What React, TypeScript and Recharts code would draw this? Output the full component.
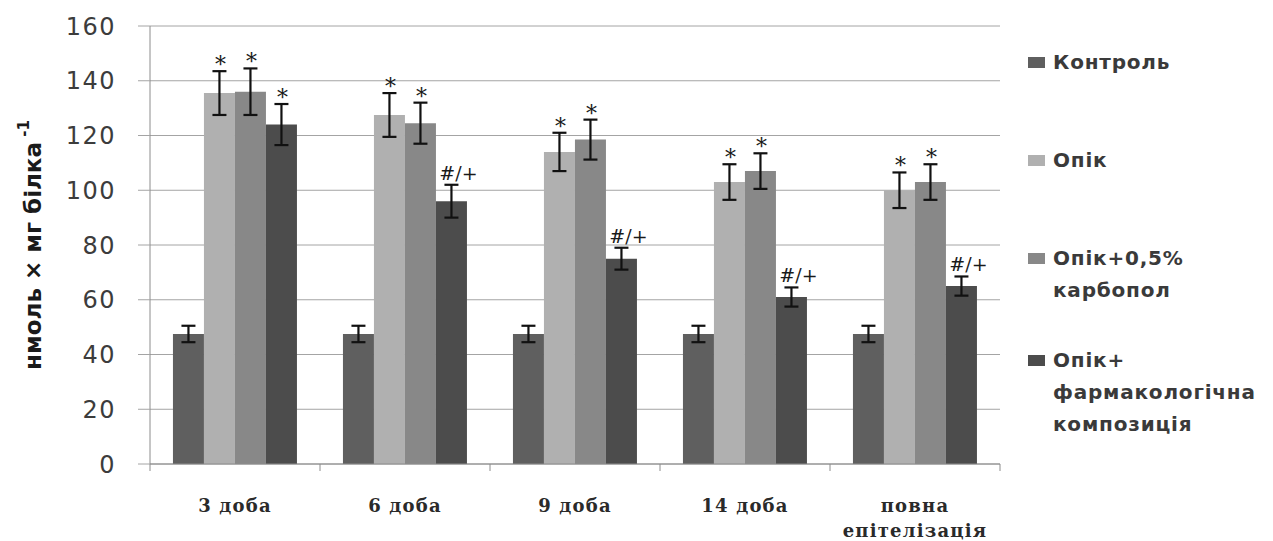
import { BarChart, Bar, XAxis, YAxis, CartesianGrid, ErrorBar, LabelList } from 'recharts'

const categoryLines = [['3 доба'], ['6 доба'], ['9 доба'], ['14 доба'], ['повна', 'епітелізація']]
const categories = categoryLines.map((l) => l.join(' '))

const control = [47.5, 47.5, 47.5, 47.5, 47.5]
const controlErr = [3, 3, 3, 3, 3]
const opik = [135.5, 127.5, 114, 103, 100]
const opikErr = [8, 8, 7, 6.5, 6.5]
const carbopol = [136, 124.5, 118.5, 107, 103]
const carbopolErr = [8.5, 7.5, 7.3, 6.5, 6.5]
const farm = [124, 96, 75, 61, 65]
const farmErr = [7.5, 6, 4, 3.5, 3.5]

const controlMarks = ['', '', '', '', '']
const opikMarks = ['*', '*', '*', '*', '*']
const carbopolMarks = ['*', '*', '*', '*', '*']
const farmMarks = ['*', '#/+', '#/+', '#/+', '#/+']

const yTicks = [0, 20, 40, 60, 80, 100, 120, 140, 160]

const series = [
  { key: 'control', lines: ['Контроль'], color: '#5f5f5f', values: control, errs: controlErr, marks: controlMarks },
  { key: 'opik', lines: ['Опік'], color: '#b0b0b0', values: opik, errs: opikErr, marks: opikMarks },
  { key: 'carbopol', lines: ['Опік+0,5%', 'карбопол'], color: '#888888', values: carbopol, errs: carbopolErr, marks: carbopolMarks },
  { key: 'farm', lines: ['Опік+', 'фармакологічна', 'композиція'], color: '#4c4c4c', values: farm, errs: farmErr, marks: farmMarks },
]

const rows = categories.map((c, i) => {
  const row: Record<string, string | number> = { category: c }
  series.forEach((s) => {
    row[s.key] = s.values[i]
    row[s.key + 'Err'] = s.errs[i]
  })
  return row
})

const legendTops = [62, 160, 258, 360]

const makeMarkLabel = (values: number[], errs: number[], marks: string[]) => (props: any) => {
  const { index } = props
  const mark = marks[index]
  if (!mark) return null
  const x = Number(props.x)
  const y = Number(props.y)
  const width = Number(props.width)
  const height = Number(props.height)
  const top = y - errs[index] * (height / values[index])
  const star = mark === '*'
  return (
    <text
      x={x + width / 2 + (star ? 1 : 7)}
      y={star ? top + 1 : top - 5}
      textAnchor="middle"
      fontFamily="'DejaVu Serif', serif"
      fontSize={star ? 22 : 19}
      fill="#1a1a1a"
    >
      {mark}
    </text>
  )
}

const CategoryTick = (props: any) => {
  const { x, y, payload, index } = props
  const half = payload && payload.offset ? payload.offset : 85
  const lines = categoryLines[index] || [String(payload.value)]
  return (
    <g>
      <line x1={x - half} y1={y} x2={x - half} y2={y + 7} stroke="#8c8c8c" />
      {index === categories.length - 1 && (
        <line x1={x + half} y1={y} x2={x + half} y2={y + 7} stroke="#8c8c8c" />
      )}
      <text
        x={x}
        y={y + 48}
        textAnchor="middle"
        fontFamily="'DejaVu Serif', serif"
        fontWeight="bold"
        fontSize={18}
        letterSpacing={1.2}
        fill="#2a2a2a"
      >
        {lines.map((l, i) => (
          <tspan key={i} x={x} dy={i === 0 ? 0 : 25}>
            {l}
          </tspan>
        ))}
      </text>
    </g>
  )
}

const YTitle = () => (
  <text
    transform="rotate(-90, 33, 245)"
    x={33}
    y={245}
    textAnchor="middle"
    dominantBaseline="central"
    fontFamily="'DejaVu Sans', sans-serif"
    fontWeight="bold"
    fontSize={23}
    fill="#1a1a1a"
  >
    нмоль × мг білка
    <tspan fontSize={15} dy={-9}> -1</tspan>
  </text>
)

export default function App() {
  return (
    <div style={{ position: 'absolute', left: 0, top: 0, width: 1273, height: 541, background: '#fff' }}>
      <BarChart
        width={1273}
        height={541}
        data={rows}
        margin={{ top: 26, right: 273, left: 0, bottom: 0 }}
        barCategoryGap="13.5%"
        barGap={0}
      >
        <CartesianGrid vertical={false} stroke="#a4a4a4" />
        <XAxis
          dataKey="category"
          height={77}
          tickLine={false}
          tickSize={0}
          tickMargin={0}
          axisLine={{ stroke: '#8c8c8c' }}
          tick={<CategoryTick />}
          interval={0}
        />
        <YAxis
          width={150}
          domain={[0, 160]}
          ticks={yTicks}
          interval={0}
          tickSize={12}
          tickMargin={22}
          axisLine={{ stroke: '#8c8c8c' }}
          tickLine={{ stroke: '#a4a4a4' }}
          tick={{ fontFamily: "'DejaVu Sans', sans-serif", fontSize: 24, fill: '#3c3c3c', letterSpacing: 1.5 }}
          label={<YTitle />}
        />
        {series.map((s) => (
          <Bar key={s.key} dataKey={s.key} name={s.lines.join(' ')} fill={s.color} isAnimationActive={false}>
            <ErrorBar dataKey={s.key + 'Err'} width={7} stroke="#111" strokeWidth={2.2} direction="y" />
            <LabelList dataKey={s.key} content={makeMarkLabel(s.values, s.errs, s.marks)} />
          </Bar>
        ))}
      </BarChart>
      {series.map((s, i) => (
        <div
          key={s.key}
          style={{
            position: 'absolute',
            left: 1028,
            top: legendTops[i] - 16,
            fontFamily: "'DejaVu Sans', sans-serif",
            fontWeight: 'bold',
            fontSize: 20,
            lineHeight: '32px',
            letterSpacing: 0.8,
            color: '#3a3a3a',
            whiteSpace: 'nowrap',
          }}
        >
          <span
            style={{
              display: 'inline-block',
              width: 17,
              height: 11,
              background: s.color,
              marginRight: 8,
              verticalAlign: 'middle',
              position: 'relative',
              top: -1,
            }}
          />
          {s.lines[0]}
          {s.lines.slice(1).map((l, j) => (
            <div key={j} style={{ paddingLeft: 25 }}>
              {l}
            </div>
          ))}
        </div>
      ))}
    </div>
  )
}
